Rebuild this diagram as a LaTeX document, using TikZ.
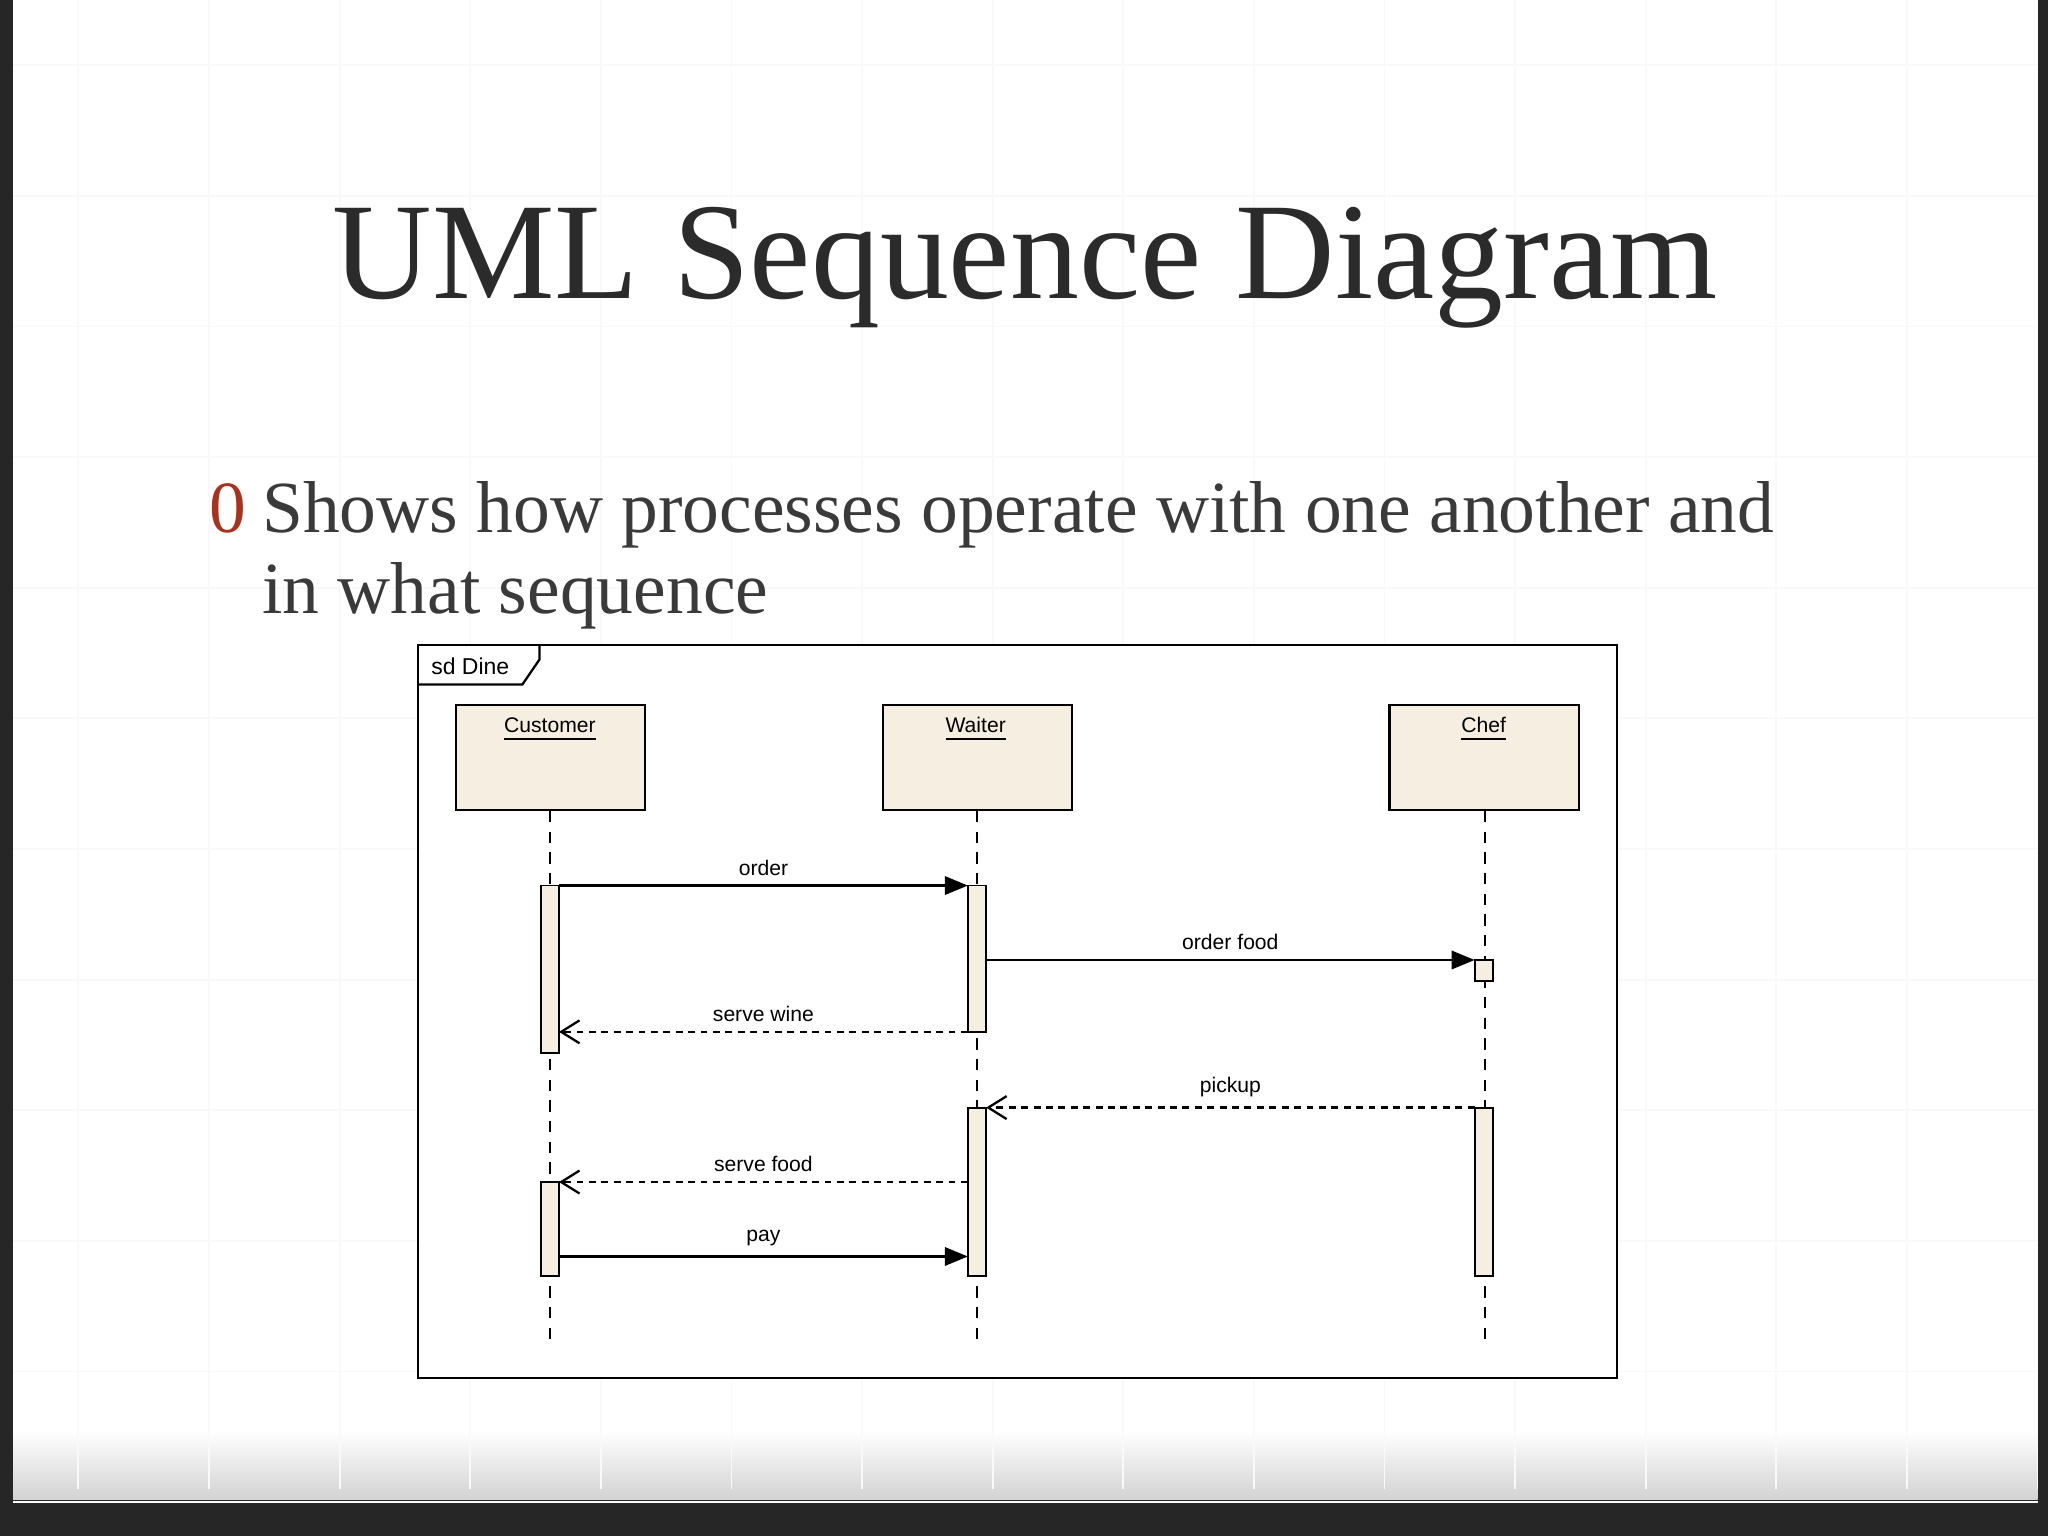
\documentclass[tikz,border=0pt]{standalone}
\usepackage{fontspec}
\setmainfont{Liberation Serif}
\newfontfamily\uisans{Liberation Sans}
\usetikzlibrary{arrows.meta}
\definecolor{beige}{HTML}{F5EEE1}
\definecolor{titlegray}{HTML}{2B2B2B}
\definecolor{bodygray}{HTML}{3A3A3A}
\definecolor{bulletred}{HTML}{A8321E}
\begin{document}
\begin{tikzpicture}[x=0.01cm,y=-0.01cm,
  life/.style={draw=black,fill=beige,line width=0.5pt,minimum width=1.45cm,minimum height=0.8cm,anchor=north west,inner sep=0},
  act/.style={draw=black,fill=beige,line width=0.4pt},
  lbl/.style={font=\uisans\fontsize{4.6pt}{5pt}\selectfont,inner sep=1pt},
  sync/.style={line width=0.5pt,-{Triangle[length=5pt,width=4pt]}},
  reply/.style={line width=0.5pt,dash pattern=on 1.5pt off 1.2pt,-{Straight Barb[length=4pt,width=5pt]}},
  lline/.style={line width=0.4pt,dash pattern=on 2.5pt off 2pt}]
\useasboundingbox (0,0) rectangle (1568,1176);
\fill[black!85] (0,0) rectangle (1568,1176);
\fill[white] (10,0) rectangle (1560,1148);
\shade[top color=white,bottom color=gray!35] (10,1095) rectangle (1560,1148);
\foreach \x in {60,160,...,1560} \draw[gray!5] (\x,0) -- (\x,1140);
\foreach \y in {50,150,...,1150} \draw[gray!5] (10,\y) -- (1560,\y);
\node[text=titlegray,font=\fontsize{30pt}{33pt}\selectfont] (title) at (785,205) {UML Sequence Diagram};
\node[text=bulletred,font=\fontsize{16pt}{18pt}\selectfont,anchor=base west,inner sep=0] (bul) at (160,408) {0};
\node[text=bodygray,font=\fontsize{16pt}{18pt}\selectfont,anchor=base west,inner sep=0] (l1) at (200,408) {Shows how processes operate with one another and};
\node[text=bodygray,font=\fontsize{16pt}{18pt}\selectfont,anchor=base west,inner sep=0] (l2) at (200,470) {in what sequence};
% frame
\fill[white] (320,494) rectangle (1238,1055);
\draw[line width=0.5pt] (320,494) rectangle (1238,1055);
\draw[line width=0.5pt] (320,524) -- (400,524) -- (413,505) -- (413,494);
\node[lbl,font=\uisans\fontsize{5pt}{6pt}\selectfont,anchor=west] (sd) at (326,510) {sd Dine};
% lifelines
\node[life] (cust) at (348,539) {};
\node[life] (wait) at (675,539) {};
\node[life] (chef) at (1063,539) {};
\node[lbl,anchor=north] at (421,545) {\underline{Customer}};
\node[lbl,anchor=north] at (747,545) {\underline{Waiter}};
\node[lbl,anchor=north] at (1136,545) {\underline{Chef}};
\coordinate (ce) at (421,1025); \coordinate (we) at (748,1025); \coordinate (fe) at (1137,1025);
\draw[lline] (cust.south -| ce) -- (ce);
\draw[lline] (wait.south -| we) -- (we);
\draw[lline] (chef.south -| fe) -- (fe);
% activations
\draw[act] (414,678) rectangle (428,806);
\draw[act] (414,905) rectangle (428,977);
\draw[act] (741,678) rectangle (755,790);
\draw[act] (741,848) rectangle (755,977);
\draw[act] (1129,735) rectangle (1143,751);
\draw[act] (1129,848) rectangle (1143,977);
% messages
\coordinate (a1) at (428,678); \coordinate (b1) at (741,678);
\draw[sync] (a1) -- node[lbl,above,yshift=1pt]{order} (b1);
\coordinate (a2) at (755,735); \coordinate (b2) at (1129,735);
\draw[sync] (a2) -- node[lbl,above,yshift=1pt]{order food} (b2);
\coordinate (a3) at (741,790); \coordinate (b3) at (428,790);
\draw[reply] (a3) -- node[lbl,above,yshift=1pt]{serve wine} (b3);
\coordinate (a4) at (1129,848); \coordinate (b4) at (755,848);
\draw[reply] (a4) -- node[lbl,above,yshift=1pt]{pickup} (b4);
\coordinate (a5) at (741,905); \coordinate (b5) at (428,905);
\draw[reply] (a5) -- node[lbl,above,yshift=1pt]{serve food} (b5);
\coordinate (a6) at (428,962); \coordinate (b6) at (741,962);
\draw[sync] (a6) -- node[lbl,above,yshift=1pt]{pay} (b6);
\end{tikzpicture}
\end{document}
